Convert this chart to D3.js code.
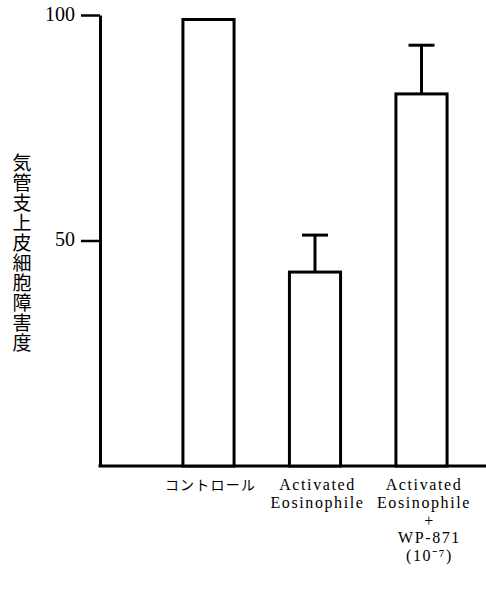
<!DOCTYPE html>
<html>
<head>
<meta charset="utf-8">
<script src="https://cdn.jsdelivr.net/npm/d3@7"></script>
<style>
  html, body { margin: 0; padding: 0; background: #fff; }
  svg { display: block; }
</style>
</head>
<body>
<script>
// Airway epithelial damage per treatment group
const categories = ["control", "eos", "eosWP"];
const values = [99, 43, 82.5];
const errors = [0, 8.2, 10.8];
const labelLines = [
  ["コントロール"],
  ["Activated", "Eosinophile"],
  ["Activated", "Eosinophile", "+", "WP-871", "(10⁻⁷)"]
];
const tickValues = [50, 100];
const yTitle = "気管支上皮細胞障害度";

const W = 486, H = 592;
const svg = d3.select("body").append("svg")
  .attr("width", W).attr("height", H)
  .style("background", "#fff");

const x = d3.scaleBand()
  .domain(categories)
  .range([155.25, 474.75])
  .paddingInner(0.52)
  .paddingOuter(0.26);

const y = d3.scaleLinear().domain([0, 100]).range([466, 15]);

const axisX = 100;

// baseline
svg.append("line")
  .attr("x1", axisX - 1.5).attr("x2", W)
  .attr("y1", y(0)).attr("y2", y(0))
  .attr("stroke", "#000").attr("stroke-width", 3);

// y axis
const yAxis = svg.append("g")
  .attr("transform", `translate(${axisX},0)`)
  .call(d3.axisLeft(y).tickValues(tickValues).tickSize(19).tickSizeOuter(0).tickPadding(6));
yAxis.select(".domain").attr("stroke", "#000").attr("stroke-width", 3);
yAxis.selectAll(".tick line").attr("stroke", "#000").attr("stroke-width", 2.5);
yAxis.selectAll(".tick text")
  .attr("font-family", "'Liberation Serif', serif")
  .attr("font-size", 20)
  .attr("fill", "#000")
  .attr("dy", "0.25em");

// bars
svg.append("g").selectAll("rect")
  .data(categories)
  .join("rect")
  .attr("x", d => x(d))
  .attr("y", (d, i) => y(values[i]))
  .attr("width", x.bandwidth())
  .attr("height", (d, i) => y(0) - y(values[i]))
  .attr("fill", "#fff")
  .attr("stroke", "#000")
  .attr("stroke-width", 3);

// error bars (upper only)
const capHalf = 13;
const eb = svg.append("g").selectAll("g")
  .data(categories.filter((d, i) => errors[i] > 0))
  .join("g");
eb.append("line")
  .attr("x1", d => x(d) + x.bandwidth() / 2)
  .attr("x2", d => x(d) + x.bandwidth() / 2)
  .attr("y1", d => y(values[categories.indexOf(d)]))
  .attr("y2", d => { const i = categories.indexOf(d); return y(values[i] + errors[i]); })
  .attr("stroke", "#000").attr("stroke-width", 3);
eb.append("line")
  .attr("x1", d => x(d) + x.bandwidth() / 2 - capHalf)
  .attr("x2", d => x(d) + x.bandwidth() / 2 + capHalf)
  .attr("y1", d => { const i = categories.indexOf(d); return y(values[i] + errors[i]); })
  .attr("y2", d => { const i = categories.indexOf(d); return y(values[i] + errors[i]); })
  .attr("stroke", "#000").attr("stroke-width", 3);

// category labels
const lineStep = 17.8;
const firstBaseline = 490;
categories.forEach((c, i) => {
  const cx = x(c) + x.bandwidth() / 2;
  const t = svg.append("text")
    .attr("text-anchor", "middle")
    .attr("fill", "#000");
  if (i === 0) {
    t.attr("font-family", "'Noto Sans CJK JP', sans-serif")
      .attr("font-size", 14)
      .attr("letter-spacing", 1.2)
      .attr("x", cx + 2).attr("y", firstBaseline - 0.5)
      .text(labelLines[i][0]);
  } else {
    t.attr("font-family", "'Liberation Serif', serif")
      .attr("font-size", 16)
      .attr("letter-spacing", 1.6);
    labelLines[i].forEach((ln, j) => {
      t.append("tspan")
        .attr("x", cx + (j < 2 ? 2.5 : 8))
        .attr("y", firstBaseline + j * lineStep)
        .text(ln);
    });
  }
});

// y axis title, vertical
svg.append("text")
  .attr("x", 22).attr("y", 253)
  .attr("text-anchor", "middle")
  .style("writing-mode", "vertical-rl")
  .attr("font-family", "'Noto Sans CJK JP', sans-serif")
  .attr("font-size", 19)
  .attr("letter-spacing", 1)
  .attr("fill", "#000")
  .text(yTitle);
</script>
</body>
</html>
